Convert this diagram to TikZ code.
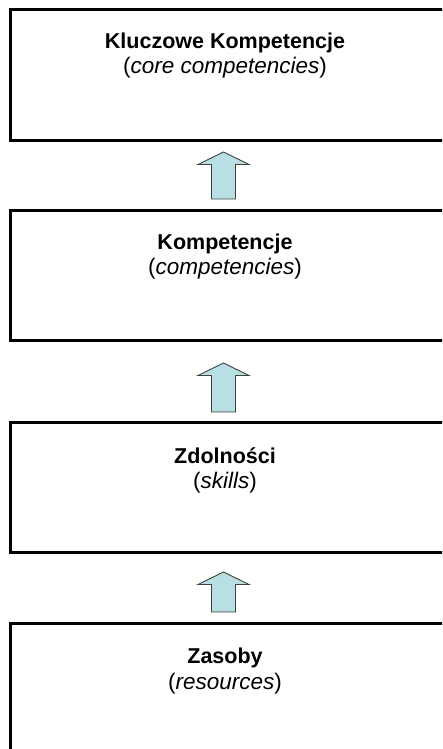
\documentclass[tikz,border=0pt]{standalone}
\usepackage{fontspec}
\setmainfont{Liberation Sans}
\begin{document}
\begin{tikzpicture}[x=1pt,y=1pt,
  levelbox/.style={draw=black,line width=3pt,fill=white},
  heading/.style={font=\fontsize{21.5}{25}\selectfont\bfseries,anchor=base,inner sep=0pt},
  gloss/.style={font=\fontsize{22.5}{25}\selectfont,anchor=base,inner sep=0pt},
  blockarrow/.style={draw=black!75,line width=0.9pt,fill=arrowfill,line join=miter}]
\definecolor{arrowfill}{HTML}{B8E0E4}
\clip (0,0) rectangle (442,-749);
\fill[white] (0,0) rectangle (442,-749);

% the four levels, each box running off the right edge
\draw[levelbox] (10,-10)  rectangle (460,-140);
\draw[levelbox] (10,-210) rectangle (460,-340);
\draw[levelbox] (10,-422) rectangle (460,-552);
\draw[levelbox] (10,-623) rectangle (460,-770);

\node[heading] (h1) at (225,-49)  {Kluczowe Kompetencje};
\node[gloss]   (g1) at (225,-74)  {(\textit{core competencies})};
\node[heading] (h2) at (225,-249) {Kompetencje};
\node[gloss]   (g2) at (225,-274) {(\textit{competencies})};
\node[heading] (h3) at (225,-463) {Zdolności};
\node[gloss]   (g3) at (225,-488) {(\textit{skills})};
\node[heading] (h4) at (225,-663) {Zasoby};
\node[gloss]   (g4) at (225,-689) {(\textit{resources})};

% upward block arrows between the levels
\tikzset{pics/uparrow/.style={code={
  \draw[blockarrow] (0,0) -- (25.5,-12.5) -- (12,-12.5) -- (12,-#1)
    -- (-12,-#1) -- (-12,-12.5) -- (-25.5,-12.5) -- cycle;}}}
\pic at (223.5,-152) {uparrow=47};
\pic at (223.5,-363) {uparrow=49};
\pic at (223.5,-572) {uparrow=40};
\end{tikzpicture}
\end{document}
